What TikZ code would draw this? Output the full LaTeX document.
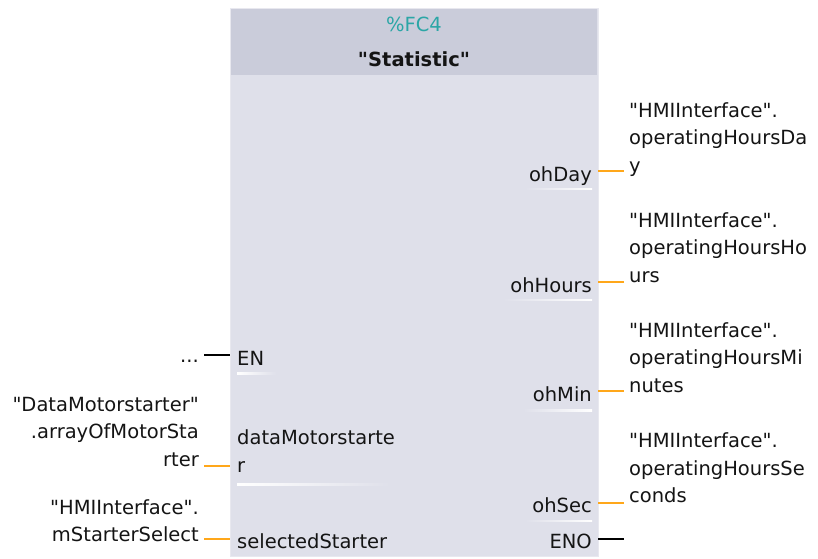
\documentclass[tikz,border=0pt]{standalone}
\usepackage{fontspec}
\setmainfont{DejaVu Sans}[Ligatures=TeXOff]
\definecolor{headfill}{HTML}{CACCDA}
\definecolor{bodyfill}{HTML}{DFE0EA}
\definecolor{boxedge}{HTML}{E8E8EF}
\definecolor{fcteal}{HTML}{2BA6A6}
\definecolor{wireorange}{HTML}{FFA71A}
\begin{document}
\begin{tikzpicture}[x=1pt,y=-1pt]
\tikzstyle{txt} = [inner sep=0pt,font=\fontsize{19.5}{27.3}\selectfont,text=black!92];
\tikzstyle{pinl} = [txt,inner xsep=7pt,anchor=base west,align=left];
\tikzstyle{pinr} = [txt,inner xsep=6pt,anchor=base east,align=right];
\tikzstyle{argl} = [txt,inner xsep=5pt,anchor=base east,align=right];
\tikzstyle{argr} = [txt,inner xsep=5pt,anchor=base west,align=left];
\tikzstyle{wire} = [line width=2pt,draw=wireorange];
\tikzstyle{bool} = [line width=2pt,draw=black];
\useasboundingbox (0,0) rectangle (818,558);
% the block
\draw[fill=bodyfill,draw=boxedge] (230,8) rectangle (598,556);
\fill[headfill] (231,9) rectangle (597,75);
\node[txt,text=fcteal,anchor=base] (fcnum) at (414,31) {\%FC4};
\node[txt,font=\fontsize{19.5}{27.3}\selectfont\bfseries,anchor=base] (fctitle) at (414,66) {"Statistic"};

% pin ends on the block edge
\coordinate (inEN) at (230,355);
\coordinate (inDMS) at (230,466);
\coordinate (inSel) at (230,539);
\coordinate (outDay) at (598,171);
\coordinate (outHours) at (598,282);
\coordinate (outMin) at (598,391);
\coordinate (outSec) at (598,503);
\coordinate (outENO) at (598,539);

% faint rules under the pins
\shade[left color=white,right color=bodyfill] (237,372.5) rectangle (276,374);
\shade[left color=white,right color=bodyfill] (237,483.5) rectangle (390,485);
\shade[left color=bodyfill,right color=white] (525,188) rectangle (592,189.5);
\shade[left color=bodyfill,right color=white] (503,299) rectangle (592,300.5);
\shade[left color=bodyfill,right color=white] (523,409.5) rectangle (592,411);
\shade[left color=bodyfill,right color=white] (525,520) rectangle (592,521.5);

\node[pinl] (en) at (inEN |- 0,365) {EN};
\node[pinl] (dms) at (inDMS |- 0,472) {dataMotorstarte\\r};
\node[pinl] (sel) at (inSel |- 0,548) {selectedStarter};
\node[pinr] (ohday) at (outDay |- 0,181) {ohDay};
\node[pinr] (ohhours) at (outHours |- 0,292) {ohHours};
\node[pinr] (ohmin) at (outMin |- 0,401) {ohMin};
\node[pinr] (ohsec) at (outSec |- 0,512) {ohSec};
\node[pinr] (eno) at (outENO |- 0,548) {ENO};

% actual parameters (base = last line)
\node[argl] (dots) at (204,362) {...};
\node[argl] (dmsarg) at (204,466) {"DataMotorstarter"\\.arrayOfMotorSta\\rter};
\node[argl] (selarg) at (204,541.5) {"HMIInterface".\\mStarterSelect};
\node[argr] (dayarg) at (624,172) {"HMIInterface".\\operatingHoursDa\\y};
\node[argr] (hoursarg) at (624,282) {"HMIInterface".\\operatingHoursHo\\urs};
\node[argr] (minarg) at (624,392) {"HMIInterface".\\operatingHoursMi\\nutes};
\node[argr] (secarg) at (624,502.5) {"HMIInterface".\\operatingHoursSe\\conds};

\draw[bool] (dots.east |- inEN) -- (inEN);
\draw[wire] (dmsarg.east |- inDMS) -- (inDMS);
\draw[wire] (selarg.east |- inSel) -- (inSel);
\draw[wire] (outDay) -- (outDay -| dayarg.west);
\draw[wire] (outHours) -- (outHours -| hoursarg.west);
\draw[wire] (outMin) -- (outMin -| minarg.west);
\draw[wire] (outSec) -- (outSec -| secarg.west);
\draw[bool] (outENO) -- (outENO -| secarg.west);
\end{tikzpicture}
\end{document}
